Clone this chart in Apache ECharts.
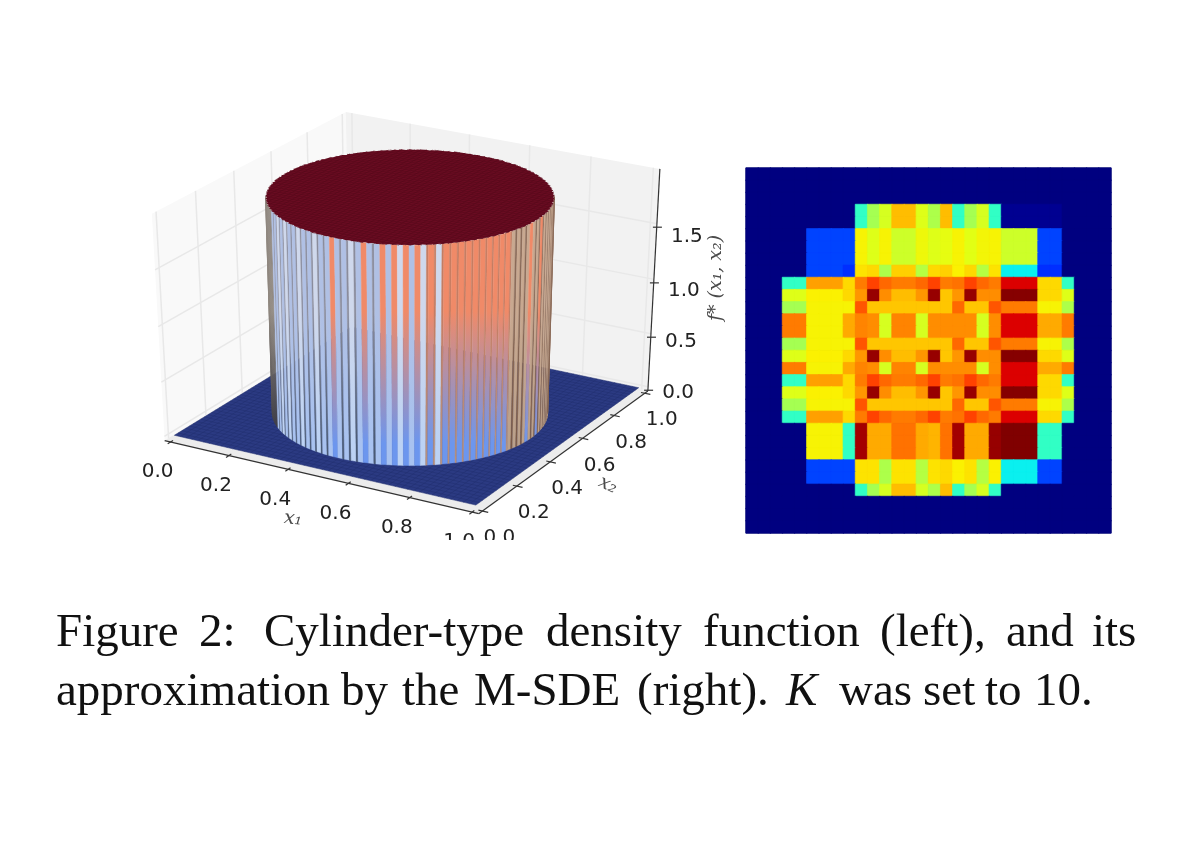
<!DOCTYPE html>
<html><head><meta charset="utf-8">
<style>html,body{margin:0;padding:0;background:#fff}#c{width:1200px;height:844px}</style>
<script src="https://cdn.jsdelivr.net/npm/echarts@6/dist/echarts.min.js"></script>
</head><body><div id="c"></div>
<script>
// ---------- heatmap values (right panel); columns 0..29
const rowEmpty    = [0,0,0,0,0,0,0,0,0,0,0,0,0,0,0,0,0,0,0,0,0,0,0,0,0,0,0,0,0,0];
const rowCap      = [0,0,0,0,0,0,0,0,0,.41,.55,.61,.71,.71,.62,.56,.71,.41,.55,.61,.41,.015,.015,.015,.015,.015,0,0,0,0];
const rowShoulder = [0,0,0,0,0,.19,.19,.19,.19,.65,.62,.65,.6,.6,.64,.62,.63,.65,.625,.645,.65,.6,.6,.6,.19,.19,0,0,0,0];
const rowNeck     = [0,0,0,0,0,.19,.19,.19,.17,.67,.68,.56,.69,.69,.57,.68,.69,.655,.68,.57,.67,.36,.36,.36,.17,.17,0,0,0,0];
const rowBandA    = [0,0,0,.41,.41,.74,.74,.74,.68,.78,.84,.8,.78,.78,.8,.84,.78,.79,.84,.8,.78,.92,.92,.92,.68,.68,.41,0,0,0];
const rowBandB    = [0,0,0,.62,.62,.655,.655,.655,.68,.75,.98,.76,.71,.71,.75,.98,.7,.75,.98,.76,.76,.995,.995,.995,.68,.68,.62,0,0,0];
const rowBandC    = [0,0,0,.55,.55,.65,.65,.65,.65,.82,.7,.7,.7,.7,.7,.7,.7,.8,.7,.7,.82,.78,.78,.78,.65,.65,.56,0,0,0];
const rowBandD    = [0,0,0,.78,.78,.65,.65,.65,.73,.77,.76,.61,.77,.77,.61,.76,.76,.76,.76,.61,.76,.92,.92,.92,.73,.73,.78,0,0,0];
const rowBase     = [0,0,0,0,0,.65,.65,.65,.41,.97,.73,.73,.79,.79,.73,.72,.79,.97,.73,.73,.98,1,1,1,.41,.41,0,0,0,0];
const rowFoot     = [0,0,0,0,0,.19,.19,.19,.19,.67,.67,.56,.67,.67,.57,.67,.68,.655,.67,.57,.655,.36,.36,.36,.19,.19,0,0,0,0];
const rowToe      = [0,0,0,0,0,0,0,0,0,.41,.55,.61,.71,.71,.61,.56,.71,.41,.55,.61,.41,0,0,0,0,0,0,0,0,0];
const heatRows = [rowEmpty,rowEmpty,rowEmpty,rowCap,rowCap,rowShoulder,rowShoulder,rowShoulder,rowNeck,
  rowBandA,rowBandB,rowBandC,rowBandD,rowBandD,rowBandC,rowBandB,rowBandD,rowBandA,rowBandB,rowBandC,rowBandA,
  rowBase,rowBase,rowBase,rowFoot,rowFoot,rowToe,rowEmpty,rowEmpty,rowEmpty];
const jetColors = ['#000080','#0000a4','#0000c8','#0000ec','#0000ff','#0020ff','#0040ff','#0060ff','#0080ff','#009fff','#00bfff','#00dffe','#14ffe2','#2effc8','#48ffaf','#62ff95','#7bff7b','#95ff62','#afff48','#c8ff2e','#e2ff14','#fcf000','#ffd200','#ffb500','#ff9600','#ff7a00','#ff5c00','#ff3e00','#ff2100','#ec0000','#c80000','#a40000','#800000'];

// ---------- surface plot (left panel)
const x1Ticks = [0.0,0.2,0.4,0.6,0.8,1.0];
const x2Ticks = [0.0,0.2,0.4,0.6,0.8,1.0];
const zTicks  = [0.0,0.5,1.0,1.5];
const cylinderRadius = 0.405;
const cylinderHeight = 1.94;
// tone of each facet strip round the visible side, left to right
const sideStrips = ['e','e','e','e','e','e','e','e','e','e','e','e','a','b','a','b','d','b','a','b','d','b','a','b','a','b','d','b','a','b','a','b','d','b','a','b','a',
 'c','a','b','a','b','d','b','a','c','a','b','a','c','a','c','d','c','a','c','d','g','c','g','d','g','c','g','c','g','c','g','c','g','c','g','c','g','c','g','c','g','c','g','c','g',
 't','h','t','h','t','h','t','c','t','h','t','h','c','h','t','h','t','h','t','h','t','h','t','h','t','h','t','h','h','h'];
const stripTones = {
  a:['#b0c0e4','#a8c2f0'], b:['#8a8c9c','#4a5a74'], c:['#f08a68','#6c96ee'], d:['#cfd8ec','#bcd2f4'],
  e:['#8e867e','#34343c'], g:['#c47c62','#b6907e'], t:['#c8a890','#baa08a'], h:['#8a6a58','#7a5a48']
};
const stripWeights = {a:1.45,b:.55,c:1.5,d:1.45,e:1,g:.5,t:1.3,h:.7};
// caption
const captionLine1 = ['Figure','2:','Cylinder-type','density','function','(left),','and','its'];
const captionLine1X = [56,199,264,546,703,880,1006,1092];
const captionLine2 = ['approximation','by','the','M-SDE','(right).','K','was','set','to','10.'];
const captionLine2X = [56,341,402,474,637,786,839,923,985,1034];

// matplotlib-style perspective camera, elev 30 azim -60 dist 10
const view = {x0:410, y0:306, kx:3625, ky:2590, fit:0.96};
function cam(u,v,w){
  const r = .866*u + .5*v, up = -.25*u + .433*v + .866*w, n = .433*u - .75*v + .5*w, d = 10 - n;
  return [view.x0 + view.kx*r/d, view.y0 - view.ky*up/d];
}
const U = t => (t-.5)*view.fit;
const W = z => (z/cylinderHeight-.5)*view.fit;
const project = (x1,x2,z) => cam(U(x1),U(x2),W(z));
function rimPoint(theta,z,scale){
  const R = cylinderRadius*(scale||1), c=Math.cos(theta), s=Math.sin(theta);
  return project(.5+R*(-c*.866+s*.5), .5+R*(-c*.5-s*.866), z);
}
const poly = (pts,fill,extra) => ({type:'polygon',shape:{points:pts},style:Object.assign({fill:fill,stroke:null},extra||{})});
const line = (a,b,color,width) => ({type:'line',shape:{x1:a[0],y1:a[1],x2:b[0],y2:b[1]},style:{stroke:color,lineWidth:width}});
const lbl = (text,x,y,font,fill,rotation,clip) => {
  const e = {type:'text',x:x,y:y,rotation:rotation||0,style:{text:text,x:0,y:0,font:font,fill:fill,align:'center',verticalAlign:'middle'}};
  if(clip) e.clipPath = clip;
  return e;
};

function drawPanes(){
  const kids=[];
  kids.push(poly([cam(-.5,-.5,-.5),cam(-.5,.5,-.5),cam(-.5,.5,.5),cam(-.5,-.5,.5)],'#f9f9f9'));
  kids.push(poly([cam(-.5,.5,-.5),cam(.5,.5,-.5),cam(.5,.5,.5),cam(-.5,.5,.5)],'#f2f2f2'));
  kids.push(poly([cam(-.5,-.5,-.5),cam(.5,-.5,-.5),cam(.5,.5,-.5),cam(-.5,.5,-.5)],'#ececec'));
  const g='#e8e8e8';
  x1Ticks.forEach(t=>{ kids.push(line(cam(U(t),.5,-.5),cam(U(t),.5,.5),g,1.5)); });
  x2Ticks.forEach(t=>{ kids.push(line(cam(-.5,U(t),-.5),cam(-.5,U(t),.5),g,1.5)); });
  zTicks.forEach(t=>{
    kids.push(line(cam(-.5,-.5,W(t)),cam(-.5,.5,W(t)),g,1.5));
    kids.push(line(cam(-.5,.5,W(t)),cam(.5,.5,W(t)),g,1.5));
  });
  return {type:'group',children:kids};
}
function drawFloor(){
  const kids=[poly([project(0,0,0),project(1,0,0),project(1,1,0),project(0,1,0)],'#2b3a82')];
  for(let i=0;i<=50;i++){
    const t=i/50;
    kids.push(line(project(t,0,0),project(t,1,0),'#212e6e',.5));
    kids.push(line(project(0,t,0),project(1,t,0),'#212e6e',.5));
  }
  return {type:'group',children:kids};
}
const stripEdges=[0];
sideStrips.forEach(t=>stripEdges.push(stripEdges[stripEdges.length-1]+stripWeights[t]));
function drawStrip(params){
  const i=params.dataIndex, total=stripEdges[stripEdges.length-1];
  const a=stripEdges[i]/total*Math.PI, b=stripEdges[i+1]/total*Math.PI;
  const tone=stripTones[sideStrips[i]];
  const pts=[rimPoint(a,cylinderHeight),rimPoint(b,cylinderHeight),rimPoint(b,0),rimPoint(a,0)];
  const y0=rimPoint(Math.PI/2,cylinderHeight)[1], y1=rimPoint(Math.PI/2,0)[1];
  const grad=new echarts.graphic.LinearGradient(0,y0,0,y1,[
    {offset:0,color:tone[0]},{offset:.3,color:tone[0]},{offset:.9,color:tone[1]},{offset:1,color:tone[1]}],true);
  return poly(pts,grad,{stroke:grad,lineWidth:.4});
}
function drawTop(){
  const pts=[], n=224;
  for(let i=0;i<n;i++){ pts.push(rimPoint(i/n*2*Math.PI,cylinderHeight,i%2?0.99:1)); }
  const kids=[poly(pts,'#6a0c22')];
  const R=cylinderRadius;
  for(let i=-25;i<=25;i++){
    const o=i/25*R*.98, h=Math.sqrt(R*R-o*o);
    kids.push(line(project(.5+o,.5-h,cylinderHeight),project(.5+o,.5+h,cylinderHeight),'#560819',.6));
    kids.push(line(project(.5-h,.5+o,cylinderHeight),project(.5+h,.5+o,cylinderHeight),'#560819',.6));
  }
  return {type:'group',children:kids};
}
function drawAxes(){
  const ax='#333', kids=[];
  kids.push(line(cam(-.5,-.5,-.5),cam(.5,-.5,-.5),ax,1.2));
  kids.push(line(cam(.5,-.5,-.5),cam(.5,.5,-.5),ax,1.2));
  kids.push(line(cam(.5,.5,-.5),cam(.5,.5,.5),ax,1.2));
  const f='20px "DejaVu Sans"', tc='#222';
  x1Ticks.forEach(t=>{
    const p=cam(U(t),-.5,-.5);
    kids.push(line(cam(U(t),-.515,-.5),cam(U(t),-.488,-.5),ax,1.2));
    const x=p[0]-13, y=p[1]+30;
    kids.push(lbl(t.toFixed(1),x,y,f,tc,0,y>525?{type:'rect',shape:{x:-40,y:-30,width:80,height:540-y+30}}:null));
  });
  x2Ticks.forEach(t=>{
    const p=cam(.5,U(t),-.5);
    kids.push(line(cam(.488,U(t),-.5),cam(.518,U(t),-.5),ax,1.2));
    const x=p[0]+17, y=p[1]+27;
    kids.push(lbl(t.toFixed(1),x,y,f,tc,0,y>525?{type:'rect',shape:{x:-40,y:-30,width:80,height:540-y+30}}:null));
  });
  zTicks.forEach(t=>{
    const p=cam(.5,.5,W(t));
    kids.push({type:'line',shape:{x1:p[0]-4,y1:p[1]+3.5,x2:p[0]+5,y2:p[1]+3.5},style:{stroke:ax,lineWidth:1.2}});
    kids.push(lbl(t.toFixed(1),p[0]+30,p[1]+6+t*5,f,tc));
  });
  const mf='italic 19px "DejaVu Serif"', mc='#4a4a4a';
  kids.push(lbl('x\u2081',293,519,mf,mc,-0.1));
  kids.push(lbl('x\u2082',608,485,mf,mc,-0.45));
  kids.push(lbl('f* (x\u2081, x\u2082)',716,278,'italic 19px "DejaVu Serif"',mc,Math.PI/2));
  return {type:'group',children:kids};
}
const single = fn => ({type:'custom',coordinateSystem:'none',silent:true,clip:false,data:[[0]],renderItem:fn,animation:false});

const heatData=[];
heatRows.forEach((row,j)=>row.forEach((v,i)=>heatData.push({value:[i,j,v],itemStyle:{borderColor:echarts.color.lerp(v,jetColors),borderWidth:.7}})));
const idx30=heatRows.map((_,i)=>String(i));

const captionGraphic=[];
const capFont='47px "Liberation Serif"';
captionLine1.forEach((w,i)=>captionGraphic.push({type:'text',x:captionLine1X[i],y:634,style:{text:w,font:capFont,fill:'#111',verticalAlign:'middle'}}));
captionLine2.forEach((w,i)=>captionGraphic.push({type:'text',x:captionLine2X[i],y:693,style:{text:w,font:(w==='K'?'italic ':'')+capFont,fill:'#111',verticalAlign:'middle'}}));

const chart=echarts.init(document.getElementById('c'),null,{renderer:'canvas'});
chart.setOption({
  animation:false,
  backgroundColor:'#fff',
  grid:{left:746,top:168,width:365,height:365,show:true,backgroundColor:'#000080',borderColor:'#67707e',borderWidth:1,z:0},
  xAxis:{type:'category',data:idx30,show:false},
  yAxis:{type:'category',data:idx30,inverse:true,show:false},
  visualMap:{show:false,min:0,max:1,seriesIndex:0,inRange:{color:jetColors}},
  graphic:{elements:captionGraphic},
  series:[
    {type:'heatmap',data:heatData,silent:true,emphasis:{disabled:true},progressive:0},
    single(drawPanes),
    single(drawFloor),
    {type:'custom',coordinateSystem:'none',silent:true,clip:false,data:sideStrips.map((_,i)=>[i]),renderItem:drawStrip,animation:false},
    single(drawTop),
    single(drawAxes)
  ]
});
</script></body></html>
